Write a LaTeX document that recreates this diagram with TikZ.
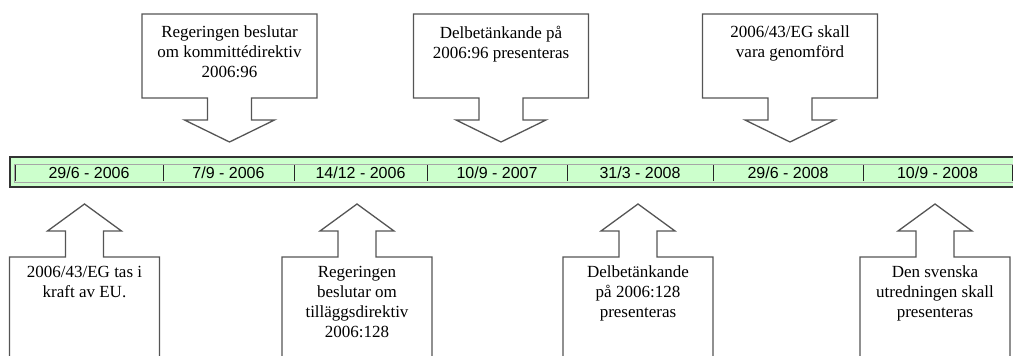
\documentclass[tikz,border=0pt]{standalone}
\usepackage{fontspec}
\usepackage{tikz}
\newfontfamily\serifnote{Liberation Serif}
\newfontfamily\sansdate{Liberation Sans}
\definecolor{barfill}{HTML}{CCFFCC}
\definecolor{outline}{HTML}{555555}
\tikzset{
	callout/.style={draw=outline, line width=1.3pt, fill=white},
	notetext/.style={font=\serifnote\fontsize{17}{20}\selectfont, align=center, inner sep=0pt, anchor=north},
	datetext/.style={font=\sansdate\fontsize{16}{18}\selectfont, inner sep=0pt}
}
\begin{document}
\begin{tikzpicture}[x=1pt,y=-1pt]
				\clip (0,0) rectangle (1013,356);
				% tidslinjen
				\draw[draw=black!80, line width=1.2pt, fill=barfill] (10,157) rectangle (1030,187);
				\draw[draw=black!35, line width=0.6pt] (14,164) rectangle (1030,182);
				\foreach \xa/\xb/\d [count=\i] in {15/163/{29/6 - 2006}, 163/294/{7/9 - 2006}, 294/427/{14/12 - 2006}, 427/567/{10/9 - 2007}, 567/713/{31/3 - 2008}, 713/863/{29/6 - 2008}, 863/1012/{10/9 - 2008}}
				{
					\draw[draw=black!85, line width=0.9pt] (\xa,165) -- (\xa,181);
					\node[datetext] (d\i) at ({(\xa+\xb)/2},173) {\d};
				}
				\draw[draw=black!85, line width=0.9pt] (1012,165) -- (1012,181);
				% pilar ovanfor
				\foreach \cx/\txt [count=\i] in {229.5/{Regeringen beslutar\\om kommittédirektiv\\2006:96}, 501/{Delbetänkande på\\2006:96 presenteras}, 790/{2006/43/EG skall\\vara genomförd}}
				{
					\draw[callout] (\cx-87.5,14) -- (\cx+87.5,14) -- (\cx+87.5,98) -- (\cx+22,98) -- (\cx+22,120) -- (\cx+45,120) -- (\cx,142) -- (\cx-45,120) -- (\cx-22,120) -- (\cx-22,98) -- (\cx-87.5,98) -- cycle;
					\node[notetext] (top\i) at (\cx,26) {\txt};
				}
				% pilar nedanfor
				\foreach \cx/\txt [count=\i] in {84.5/{2006/43/EG tas i\\kraft av EU.}, 357/{Regeringen\\beslutar om\\tilläggsdirektiv\\2006:128}, 638/{Delbetänkande\\på 2006:128\\presenteras}, 935/{Den svenska\\utredningen skall\\presenteras}}
				{
					\draw[callout] (\cx,204) -- (\cx+37,231) -- (\cx+19,231) -- (\cx+19,257) -- (\cx+75,257) -- (\cx+75,370) -- (\cx-75,370) -- (\cx-75,257) -- (\cx-19,257) -- (\cx-19,231) -- (\cx-37,231) -- cycle;
					\node[notetext] (bot\i) at (\cx,266) {\txt};
				}
\end{tikzpicture}
\end{document}
